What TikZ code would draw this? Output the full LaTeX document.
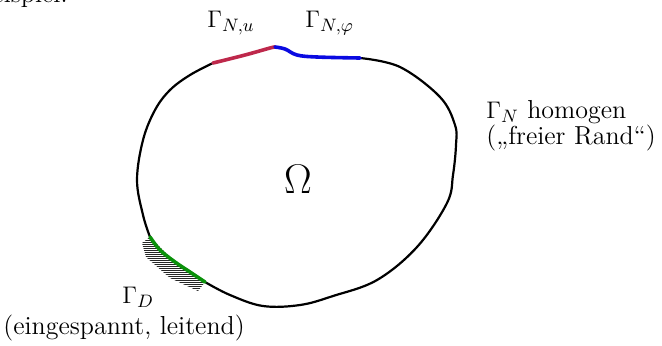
\documentclass[tikz,border=0pt]{standalone}
\begin{document}
\begin{tikzpicture}[x=0.5pt,y=-0.5pt,
  lbl/.style={inner sep=0pt,font=\fontsize{13}{15}\selectfont},
  bnd/.style={line width=1.1pt,line cap=round,line join=round},
  seg/.style={line width=1.8pt,line cap=round,line join=round}]
\definecolor{redseg}{RGB}{190,40,75}
\definecolor{blueseg}{RGB}{10,10,225}
\definecolor{greenseg}{RGB}{10,145,10}
\useasboundingbox (0,0) rectangle (662,345);
\clip (0,0) rectangle (662,345);
% hatching behind Dirichlet part
\begin{scope}
\clip (142,243) -- (150,237) -- (175,262) -- (205,282) -- (198,291) -- (170,278) -- (146,257) -- cycle;
\foreach \yy in {236,238,...,292} \draw[line width=0.45pt,black!85] (130,\yy) -- (215,\yy);
\end{scope}
% black boundary parts
\draw[bnd] plot[smooth,tension=0.6] coordinates {(360,58) (400,67) (440,97) (455,125) (456,145) (453,175) (447,203) (417,247) (377,280) (333,296) (300,305) (263,306) (230,295) (205,282)};
\draw[bnd] plot[smooth,tension=0.6] coordinates {(150,237) (143,215) (137,180) (143,140) (155,110) (170,90) (190,75) (213,63)};
% coloured parts
\draw[seg,redseg] plot[smooth,tension=0.6] coordinates {(213,63) (245,55) (270,48) (275,47)};
\draw[seg,blueseg] plot[smooth,tension=0.6] coordinates {(275,47) (285,49) (297,55) (317,57) (360,58)};
\draw[seg,greenseg] plot[smooth,tension=0.6] coordinates {(150,237) (160,250) (175,262) (190,272) (205,282)};
% labels
\node[lbl,anchor=base east] (bsp) at (68,2) {Beispiel:};
\node[lbl,anchor=base west] (gnu) at (207,27) {$\Gamma_{N,u}$};
\node[lbl,anchor=base west] (gnphi) at (305,27) {$\Gamma_{N,\varphi}$};
\node[lbl,anchor=base west] (gn) at (486,118) {$\Gamma_N$ homogen};
\node[lbl,anchor=base west] (frei) at (486,144) {(„freier Rand“)};
\node[inner sep=0pt,anchor=base] (omega) at (298,193) {\fontsize{22.5}{26}\selectfont$\Omega$};
\node[lbl,anchor=base west] (gd) at (122,303) {$\Gamma_D$};
\node[lbl,anchor=base west] (eing) at (3,334) {(eingespannt, leitend)};
\end{tikzpicture}
\end{document}
